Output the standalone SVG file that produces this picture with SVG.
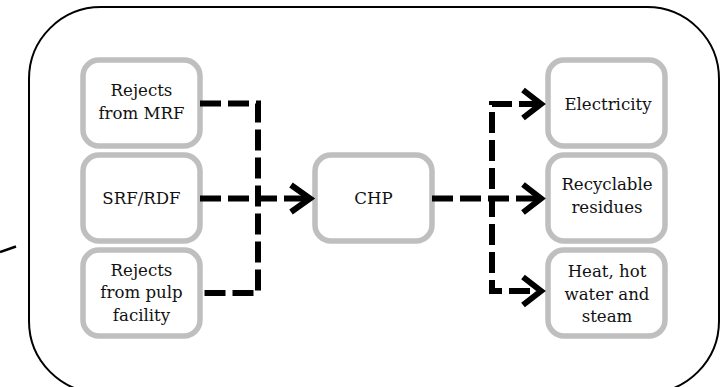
<svg xmlns="http://www.w3.org/2000/svg" width="722" height="387" viewBox="0 0 722 387">
<style>
.node rect{fill:#fff;stroke:#bfbfbf;stroke-width:5.5}
.node text{font-family:"DejaVu Serif",serif;font-size:16.6px;fill:#111;text-anchor:middle}
.dash{fill:none;stroke:#000;stroke-width:6;stroke-dasharray:21 7}
.head{fill:none;stroke:#000;stroke-width:6;stroke-linejoin:miter}
</style>
<rect x="29" y="7" width="690" height="386" rx="72" fill="none" stroke="#000" stroke-width="2"/>
<line x1="0" y1="252" x2="16" y2="246.5" stroke="#000" stroke-width="2.5"/>
<g id="n-mrf" class="node"><rect x="83" y="60" width="117" height="86" rx="16"/><text x="141.5" y="96">Rejects</text><text x="141.5" y="118.5">from MRF</text></g>
<g id="n-srf" class="node"><rect x="83" y="155" width="117" height="86" rx="16"/><text x="141.5" y="203.5">SRF/RDF</text></g>
<g id="n-pulp" class="node"><rect x="83" y="250" width="117" height="86" rx="16"/><text x="141.5" y="275.5">Rejects</text><text x="141.5" y="298">from pulp</text><text x="141.5" y="320.5">facility</text></g>
<g id="n-chp" class="node"><rect x="315" y="155" width="117" height="86" rx="16"/><text x="373.5" y="203.5">CHP</text></g>
<g id="n-elec" class="node"><rect x="548" y="60" width="117" height="86" rx="16"/><text x="608" y="110">Electricity</text></g>
<g id="n-res" class="node"><rect x="548" y="155" width="117" height="86" rx="16"/><text x="607" y="190">Recyclable</text><text x="607" y="212.5">residues</text></g>
<g id="n-heat" class="node"><rect x="548" y="250" width="117" height="86" rx="16"/><text x="607" y="277">Heat, hot</text><text x="607" y="299.5">water and</text><text x="607" y="322">steam</text></g>
<g id="connectors">
<path class="dash" d="M200,103.5 H258 V293 H200"/>
<path class="dash" d="M200,198.5 H309"/>
<polyline class="head" points="291,185 310,198.5 291,212"/>
<path class="dash" d="M432,198.5 H540"/>
<path class="dash" d="M540,104 H492 V291 H540"/>
<polyline class="head" points="523,90 541,104 523,118"/>
<polyline class="head" points="523,184.5 541,198.5 523,212.5"/>
<polyline class="head" points="523,277 541,291 523,305"/>
</g>
</svg>
